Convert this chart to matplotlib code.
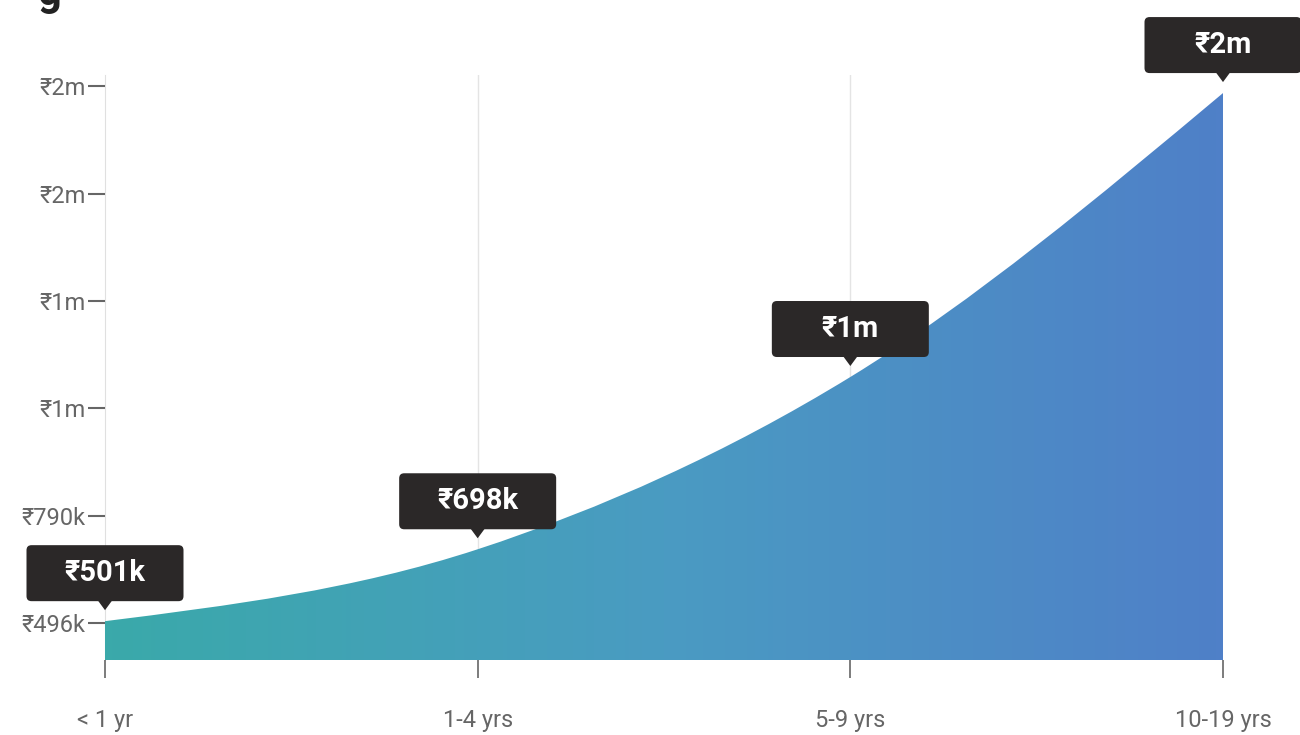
import numpy as np
import matplotlib
matplotlib.use("Agg")
from matplotlib import pyplot as plt
from matplotlib.path import Path
from matplotlib.patches import PathPatch, FancyBboxPatch, Polygon
from matplotlib.colors import LinearSegmentedColormap
import matplotlib.transforms as mtransforms

plt.rcParams['font.family'] = ['Roboto', 'DejaVu Sans']

# salary by years of experience
groups = ["< 1 yr", "1-4 yrs", "5-9 yrs", "10-19 yrs"]
salary = [501000, 698000, 1170000, 1948000]
yticks = [496000, 790000, 1084000, 1378000, 1672000, 1966000]
ylims = (394600, 1997500)


def money(v):
    if v >= 1e6:
        return "₹%.0fm" % (v / 1e6)
    return "₹%.0fk" % (v / 1e3)


def monotone_path(x, y, ybase):
    # monotone cubic through the points, closed down to the baseline
    x = np.asarray(x, float)
    y = np.asarray(y, float)
    n = len(x)
    h = np.diff(x)
    s = np.diff(y) / h
    t = np.zeros(n)
    for i in range(1, n - 1):
        p = (s[i - 1] * h[i] + s[i] * h[i - 1]) / (h[i - 1] + h[i])
        t[i] = (np.sign(s[i - 1]) + np.sign(s[i])) * min(abs(s[i - 1]), abs(s[i]), 0.5 * abs(p))
    t[0] = (3 * s[0] - t[1]) / 2
    t[-1] = (3 * s[-1] - t[-2]) / 2
    verts = [(x[0], y[0])]
    codes = [Path.MOVETO]
    for i in range(n - 1):
        dx = h[i] / 3
        verts += [(x[i] + dx, y[i] + dx * t[i]), (x[i + 1] - dx, y[i + 1] - dx * t[i + 1]), (x[i + 1], y[i + 1])]
        codes += [Path.CURVE4] * 3
    verts += [(x[-1], ybase), (x[0], ybase), (x[0], y[0])]
    codes += [Path.LINETO, Path.LINETO, Path.CLOSEPOLY]
    return Path(verts, codes)


fig = plt.figure(figsize=(13, 7.35), dpi=100)
ax = fig.add_axes([105 / 1300, 1 - 660 / 735, 1118 / 1300, 585 / 735])
xs = np.arange(len(groups))
ax.set_xlim(0, len(groups) - 1)
ax.set_ylim(*ylims)

for xg in xs[1:-1]:
    ax.axvline(xg, color="#e4e4e4", lw=1, zorder=0)

area = PathPatch(monotone_path(xs, salary, ylims[0]), fc="none", ec="none")
ax.add_patch(area)
cmap = LinearSegmentedColormap.from_list("exp", ["#3aa9aa", "#4a9bc2", "#4f80c8"])
grad = ax.imshow(np.linspace(0, 1, 256).reshape(1, -1), cmap=cmap, aspect="auto",
                 extent=[xs[0], xs[-1], ylims[0], ylims[1]], zorder=2, interpolation="bilinear")
grad.set_clip_path(area)

ax.set_xticks(xs)
ax.set_xticklabels(groups)
ax.set_yticks(yticks)
ax.set_yticklabels([money(v) for v in yticks])
ax.tick_params(axis="x", length=13, width=1.2, color="#666", pad=22, labelsize=17, labelcolor="#666")
ax.tick_params(axis="y", length=12, width=1.5, color="#666", pad=2, labelsize=17, labelcolor="#666")
for side in ["top", "right", "bottom"]:
    ax.spines[side].set_visible(False)
ax.spines["left"].set_color("#e0e0e0")
ax.spines["left"].set_zorder(0)

# value callouts above each point
ident = mtransforms.IdentityTransform()
bw, bh = 157, 56
for xv, yv in zip(xs, salary):
    px, py = ax.transData.transform((xv, yv))
    box = FancyBboxPatch((px - bw / 2, py + 20), bw, bh, boxstyle="round,pad=0,rounding_size=5",
                         fc="#2b2828", ec="none", transform=ident, zorder=5, clip_on=False)
    fig.patches.append(box)
    tri = Polygon([(px - 7, py + 20.5), (px + 7, py + 20.5), (px, py + 11)], closed=True,
                  fc="#2b2828", ec="none", transform=ident, zorder=5)
    fig.patches.append(tri)
    fig.text(px / 1300, (py + 20 + bh / 2) / 735, money(yv), color="white", fontsize=21,
             fontweight="bold", ha="center", va="center", zorder=6)

# tail of the title running off the top edge
fig.text(38 / 1300, 1 - 5 / 735, "g", fontsize=30, fontweight="bold", color="#222", va="baseline")

fig.savefig("out.png", dpi=100)
